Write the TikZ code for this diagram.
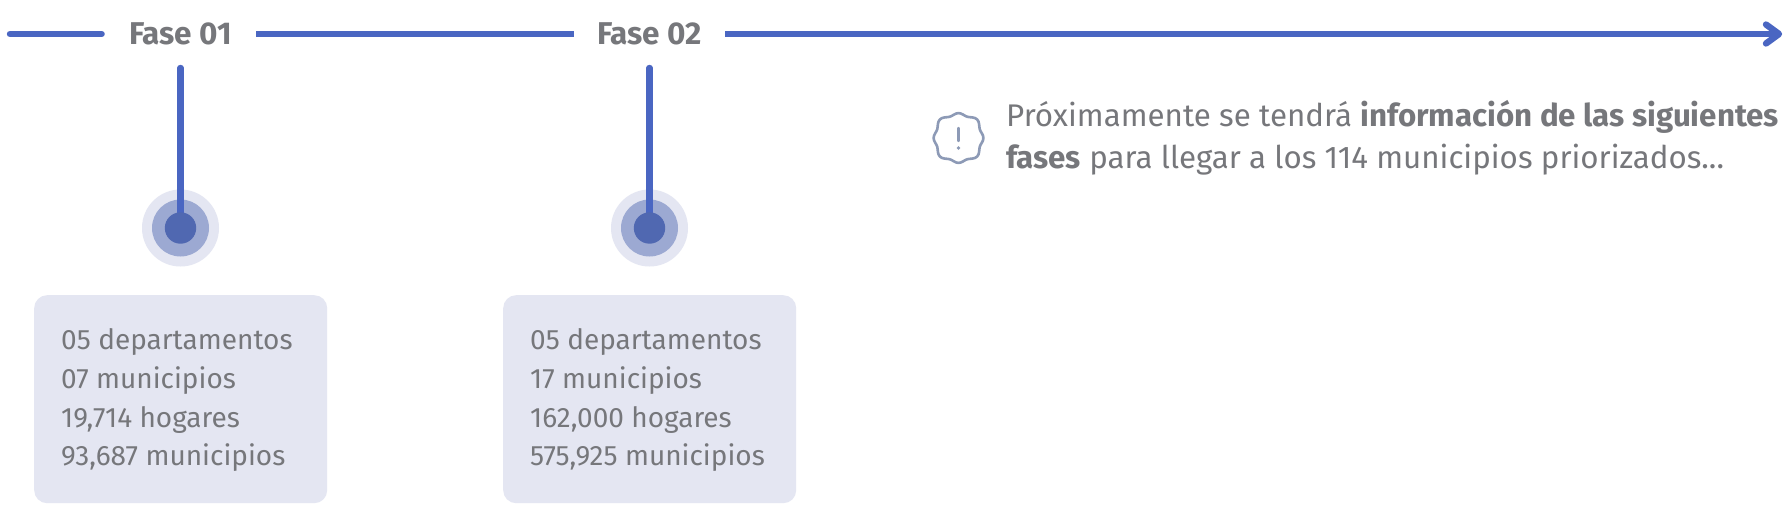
\documentclass[tikz,border=0pt]{standalone}
\usepackage{fontspec}
\setmainfont{Fira Sans}
\usetikzlibrary{calc}
\definecolor{lineblue}{HTML}{4A66C2}
\definecolor{ringa}{HTML}{E4E6F2}
\definecolor{ringb}{HTML}{9CA9D2}
\definecolor{ringc}{HTML}{5068B1}
\definecolor{txt}{HTML}{76777B}
\definecolor{icon}{HTML}{8D9AB6}
\tikzset{
  tline/.style={draw=lineblue,line width=6.4pt},
  faselabel/.style={font=\fontsize{31.5}{36}\selectfont\bfseries,text=txt,minimum width=151pt,minimum height=40pt,inner sep=0pt,anchor=base},
  infobox/.style={fill=ringa,rounded corners=13pt,minimum width=293pt,minimum height=208pt,inner sep=0pt,anchor=north west},
  boxtext/.style={text width=239pt,inner sep=0pt,align=flush left,text=txt,font=\fontsize{28}{38.6}\selectfont},
  note/.style={text=txt,font=\fontsize{31.3}{42}\selectfont,align=left,inner sep=0pt,anchor=north west},
}
\begin{document}
\begin{tikzpicture}[x=1pt,y=-1pt]
\useasboundingbox (0,0) rectangle (1790,511);
\fill[white] (0,0) rectangle (1790,511);
\coordinate (start) at (10,34);
\coordinate (tip) at (1779,34);
\node[faselabel] (f1) at (180.5,45) {Fase 01};
\node[faselabel] (f2) at (649.5,45) {Fase 02};
\draw[tline,line cap=round,shorten >=3.2pt] (start) -- (f1.west |- start);
\draw[tline] (f1.east |- start) -- (f2.west |- start);
\draw[tline] (f2.east |- start) -- (tip);
\draw[tline,line cap=round,line join=round] ($(tip)+(-13,-9.5)$) -- (tip) -- ($(tip)+(-13,9.5)$);
\foreach \n/\x in {a/180.5,b/649.5}{
  \coordinate (top\n) at (\x,68);
  \coordinate (dot\n) at (\x,228);
  \fill[ringa] (dot\n) circle (38.5);
  \fill[ringb] (dot\n) circle (28.5);
  \draw[draw=lineblue,line width=6.4pt,line cap=round] (top\n) -- (dot\n);
  \fill[ringc] (dot\n) circle (15.7);
}
\node[infobox] (b1) at (34,295) {};
\node[infobox] (b2) at (503,295) {};
\node[boxtext] (t1) at ($(b1.center)+(0,1)$) {05 departamentos\\07 municipios\\19,714 hogares\\93,687 municipios};
\node[boxtext] (t2) at ($(b2.center)+(0,1)$) {05 departamentos\\17 municipios\\162,000 hogares\\575,925 municipios};
\coordinate (ic) at (958.5,138);
\draw[icon,line width=2.6pt,line join=round] plot[smooth cycle,samples=64,domain=0:354.375,variable=\t] ({958.5+(24.3+1.3*cos(8*\t)-0.7*cos(4*\t))*cos(\t)},{138+(24.3+1.3*cos(8*\t)-0.7*cos(4*\t))*sin(\t)});
\draw[icon,line width=2.4pt,line cap=round] ($(ic)+(0,-10)$) -- ($(ic)+(0,3)$);
\fill[icon] ($(ic)+(0,10)$) circle (1.8);
\node[note] (msg) at (1006,100) {Próximamente se tendrá \textbf{información de las siguientes}\\\textbf{fases} para llegar a los 114 municipios priorizados...};
\end{tikzpicture}
\end{document}
